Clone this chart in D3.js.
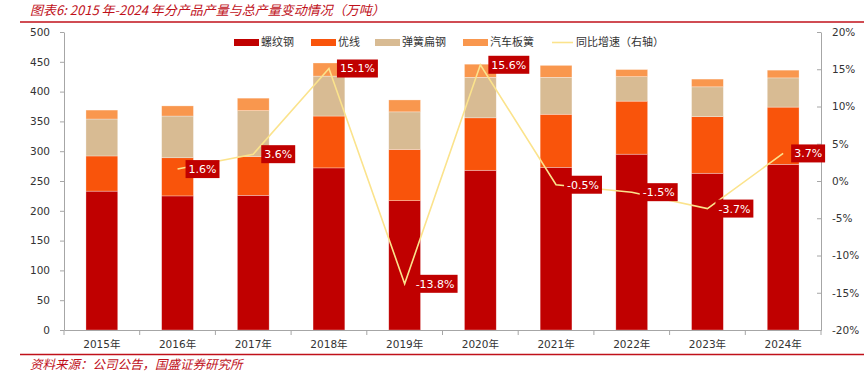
<!DOCTYPE html>
<html>
<head>
<meta charset="utf-8">
<script src="https://cdn.jsdelivr.net/npm/d3@7/dist/d3.min.js"></script>
<style>
  body { margin: 0; background: #fff; }
  svg { display: block; }
  .axis text { font-family: "DejaVu Sans", "Noto Sans CJK SC", sans-serif; font-size: 10.5px; fill: #333; }
  .axis path, .axis line { stroke: #a6a6a6; }
</style>
</head>
<body>
<svg class="chart"></svg>
<script>
// data (万吨)
const years = ["2015年", "2016年", "2017年", "2018年", "2019年", "2020年", "2021年", "2022年", "2023年", "2024年"];
const rebar = [233, 225, 226, 272, 217, 268, 273, 295, 263, 278];      // 螺纹钢
const wire = [59, 64, 65, 87, 86, 88, 89, 89, 95, 96];                 // 优线
const springFlat = [62, 70, 77, 67, 63, 68, 62, 41, 50, 49];           // 弹簧扁钢
const leafSpring = [15, 17, 21, 22, 20, 22, 20, 12, 13, 13];           // 汽车板簧
const growth = [null, 0.016, 0.036, 0.151, -0.138, 0.156, -0.005, -0.015, -0.037, 0.037]; // 同比增速
const leftTicks = [0, 50, 100, 150, 200, 250, 300, 350, 400, 450, 500];
const rightTicks = [-0.2, -0.15, -0.1, -0.05, 0, 0.05, 0.1, 0.15, 0.2];

const keys = ["rebar", "wire", "springFlat", "leafSpring"];
const names = ["螺纹钢", "优线", "弹簧扁钢", "汽车板簧"];
const colors = ["#c00000", "#f9540b", "#d8bb93", "#f9974e"];
const lineColor = "#fbe38c";
const red = "#c0101a";

const width = 864;
const height = 382;
const margin = { top: 32, left: 64, bottom: 52, right: 43 };

let svg = d3.select("svg.chart")
    .attr("width", width)
    .attr("height", height);

// hyphen minus like the original, not the unicode minus
const locale = d3.formatLocale({ decimal: ".", thousands: ",", grouping: [3], currency: ["", ""], minus: "-" });
const pct0 = locale.format(".0%");
const pct1 = locale.format(".1%");

let table = years.map((y, i) => ({
    year: y,
    rebar: rebar[i],
    wire: wire[i],
    springFlat: springFlat[i],
    leafSpring: leafSpring[i],
    growth: growth[i]
}));

let x = d3.scaleBand()
    .domain(years)
    .range([margin.left, width - margin.right])
    .paddingInner(0.58)
    .paddingOuter(0.29);

let y = d3.scaleLinear()
    .domain([0, 500])
    .range([height - margin.bottom, margin.top]);

let y2 = d3.scaleLinear()
    .domain([-0.2, 0.2])
    .range([height - margin.bottom, margin.top]);

// title + red rules
svg.append("text")
    .attr("x", 30)
    .attr("y", 15)
    .style("font-family", "\"Noto Sans CJK SC\", sans-serif")
    .style("font-style", "italic")
    .style("font-size", "13px")
    .style("fill", red)
    .text("图表6:  2015 年-2024 年分产品产量与总产量变动情况（万吨）");

svg.append("line")
    .attr("x1", 20).attr("x2", width)
    .attr("y1", 22).attr("y2", 22)
    .attr("stroke", red).attr("stroke-width", 1.5);

svg.append("line")
    .attr("x1", 20).attr("x2", width)
    .attr("y1", 354.5).attr("y2", 354.5)
    .attr("stroke", red).attr("stroke-width", 1.5);

svg.append("text")
    .attr("x", 30)
    .attr("y", 369)
    .style("font-family", "\"Noto Sans CJK SC\", sans-serif")
    .style("font-style", "italic")
    .style("font-size", "12.5px")
    .style("fill", red)
    .text("资料来源：公司公告，国盛证券研究所");

// stacked bars
let stacked = d3.stack().keys(keys)(table);

svg.append("g")
    .selectAll("g")
    .data(stacked)
    .enter().append("g")
    .attr("fill", (d, i) => colors[i])
    .selectAll("rect")
    .data(d => d)
    .enter().append("rect")
    .attr("x", d => x(d.data.year))
    .attr("width", x.bandwidth())
    .attr("y", d => y(d[1]))
    .attr("height", d => y(d[0]) - y(d[1]))
    .attr("stroke", "#fff")
    .attr("stroke-opacity", 0.5)
    .attr("stroke-width", 0.6);

// axes
svg.append("g")
    .attr("class", "axis")
    .attr("transform", `translate(${margin.left}, 0)`)
    .call(d3.axisLeft(y).tickValues(leftTicks).tickSizeInner(4).tickSizeOuter(0).tickPadding(10));

svg.append("g")
    .attr("class", "axis")
    .attr("transform", `translate(${width - margin.right}, 0)`)
    .call(d3.axisRight(y2).tickValues(rightTicks).tickFormat(pct0).tickSizeInner(-4).tickSizeOuter(0).tickPadding(11));

let xAxis = svg.append("g")
    .attr("class", "axis")
    .attr("transform", `translate(0, ${height - margin.bottom})`)
    .call(d3.axisBottom(x).tickSize(0).tickPadding(11));

// ticks sit between the categories
let step = x.step();
xAxis.selectAll(".sep")
    .data(years.concat(["end"]))
    .enter().append("line")
    .attr("class", "sep")
    .attr("x1", (d, i) => margin.left + i * step)
    .attr("x2", (d, i) => margin.left + i * step)
    .attr("y1", 0)
    .attr("y2", 5);

// growth line on the right axis
let cx = d => x(d.year) + x.bandwidth() / 2;

let line = d3.line()
    .defined(d => d.growth !== null)
    .x(cx)
    .y(d => y2(d.growth));

svg.append("path")
    .datum(table)
    .attr("d", line)
    .attr("fill", "none")
    .attr("stroke", lineColor)
    .attr("stroke-width", 1.6);

// value boxes
let labels = svg.append("g")
    .selectAll("g")
    .data(table.filter(d => d.growth !== null))
    .enter().append("g")
    .attr("transform", d => `translate(${cx(d) + 8}, ${y2(d.growth)})`);

labels.append("text")
    .attr("x", 3)
    .attr("dy", "0.36em")
    .style("font-family", "\"DejaVu Sans\", sans-serif")
    .style("font-size", "11px")
    .style("fill", "#fff")
    .text(d => pct1(d.growth));

labels.each(function() {
    let g = d3.select(this);
    let bb = g.select("text").node().getBBox();
    g.insert("rect", "text")
        .attr("x", 0)
        .attr("y", -9)
        .attr("width", bb.width + 6)
        .attr("height", 18)
        .attr("fill", "#c00000");
});

// legend
let legendX = [234, 311, 375, 463];
let legend = svg.append("g")
    .style("font-family", "\"Noto Sans CJK SC\", sans-serif")
    .style("font-size", "11px")
    .style("fill", "#333");

names.forEach((n, i) => {
    legend.append("rect")
        .attr("x", legendX[i]).attr("y", 39)
        .attr("width", 25).attr("height", 7)
        .attr("fill", colors[i]);
    legend.append("text")
        .attr("x", legendX[i] + 27).attr("y", 42.5)
        .attr("dy", "0.35em")
        .text(n);
});

legend.append("line")
    .attr("x1", 552).attr("x2", 573)
    .attr("y1", 42.5).attr("y2", 42.5)
    .attr("stroke", lineColor).attr("stroke-width", 1.6);
legend.append("text")
    .attr("x", 576).attr("y", 42.5)
    .attr("dy", "0.35em")
    .text("同比增速（右轴）");
</script>
</body>
</html>
